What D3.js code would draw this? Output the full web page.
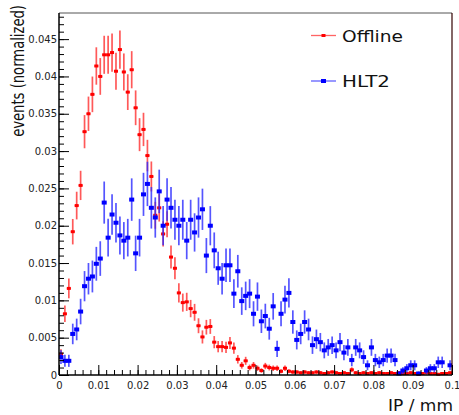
<!DOCTYPE html>
<html>
<head>
<meta charset="utf-8">
<script src="https://cdn.jsdelivr.net/npm/d3@7"></script>
<style>
  body { margin: 0; background: #fff; }
  svg { display: block; }
  text { font-family: "DejaVu Sans", sans-serif; }
</style>
</head>
<body>
<svg id="chart" width="459" height="415"></svg>
<script>
// Histogram binning: 100 bins of impact parameter between 0 and 0.1 mm
const binRange = [0, 0.1];
const nBins = 100;

// Normalized bin contents, Offline reconstruction
const offline = [
  0.0028, 0.0082, 0.0116, 0.0192, 0.0227, 0.0254, 0.0326, 0.0350, 0.0376, 0.0414,
  0.0400, 0.0429, 0.0429, 0.0432, 0.0407, 0.0436, 0.0406, 0.0379, 0.0409, 0.0358,
  0.0322, 0.0329, 0.0294, 0.0266, 0.0214, 0.0224, 0.0189, 0.0202, 0.0158, 0.0143,
  0.0110, 0.0097, 0.0098, 0.0089, 0.0084, 0.0066, 0.0051, 0.0064, 0.0065, 0.0044,
  0.0038, 0.0038, 0.0037, 0.0043, 0.0036, 0.0021, 0.0013, 0.0019, 0.0010, 0.0013,
  0.0009, 0.0006, 0.0012, 0.0010, 0.0009, 0.0009, 0.0005, 0.0009, 0.0005, 0.0004,
  0.0004, 0.0003, 0.0004, 0.0003, 0.0003, 0.0004, 0.0003, 0.0002, 0.0003, 0.0004,
  0.0003, 0.0002, 0.0003, 0.0002, 0.0007, 0.0003, 0.0002, 0.0003, 0.0002, 0.0003,
  0.0002, 0.0003, 0.0002, 0.0002, 0.0003, 0.0002, 0.0003, 0.0002, 0.0002, 0.0003,
  0.0002, 0.0001, 0.0002, 0.0003, 0.0002, 0.0002, 0.0001, 0.0002, 0.0002, 0.0003
];

// Normalized bin contents, HLT2 reconstruction
const hlt2 = [
  0.0024, 0.0019, 0.0019, 0.0055, 0.0061, 0.0085, 0.0119, 0.0129, 0.0132, 0.0149,
  0.0156, 0.0231, 0.0184, 0.0215, 0.0204, 0.0187, 0.0180, 0.0184, 0.0235, 0.0163,
  0.0184, 0.0242, 0.0256, 0.0224, 0.0211, 0.0246, 0.0200, 0.0235, 0.0224, 0.0208,
  0.0200, 0.0208, 0.0180, 0.0208, 0.0191, 0.0211, 0.0222, 0.0160, 0.0200, 0.0167,
  0.0143, 0.0129, 0.0147, 0.0147, 0.0109, 0.0139, 0.0099, 0.0106, 0.0109, 0.0082,
  0.0105, 0.0072, 0.0079, 0.0062, 0.0092, 0.0035, 0.0082, 0.0101, 0.0110, 0.0071,
  0.0047, 0.0055, 0.0071, 0.0061, 0.0040, 0.0048, 0.0044, 0.0033, 0.0037, 0.0040,
  0.0033, 0.0044, 0.0030, 0.0037, 0.0020, 0.0037, 0.0033, 0.0024, 0.0013, 0.0037,
  0.0020, 0.0017, 0.0020, 0.0026, 0.0026, 0.0020, 0.0002, 0.0006, 0.0009, 0.0013,
  0.0013, 0.0002, 0.0000, 0.0006, 0.0009, 0.0009, 0.0017, 0.0017, 0.0000, 0.0013
];

// Effective number of entries per sample (sets the Poisson error bars)
const entriesOffline = 6600;
const entriesHLT2 = 2900;

const seriesNames = ["Offline", "HLT2"];
const xTickLabels = ["0", "0.01", "0.02", "0.03", "0.04", "0.05", "0.06", "0.07", "0.08", "0.09", "0.1"];
const yTickLabels = ["0", "0.005", "0.01", "0.015", "0.02", "0.025", "0.03", "0.035", "0.04", "0.045"];
const xTitle = "IP / mm";
const yTitle = "events (normalized)";
const yMax = 0.0485;

const W = 459, H = 415;
const margin = { left: 59, top: 13, right: 7, bottom: 40 };
const pw = W - margin.left - margin.right;
const ph = H - margin.top - margin.bottom;

const svg = d3.select("#chart");
const g = svg.append("g").attr("transform", `translate(${margin.left},${margin.top})`);

const x = d3.scaleLinear().domain(binRange).range([0, pw]);
const y = d3.scaleLinear().domain([0, yMax]).range([ph, 0]);
const binW = (binRange[1] - binRange[0]) / nBins;

function toBins(values, entries) {
  return values.map((v, i) => ({
    lo: binRange[0] + i * binW,
    hi: binRange[0] + (i + 1) * binW,
    c: binRange[0] + (i + 0.5) * binW,
    v: v,
    e: Math.sqrt(v / entries)
  })).filter(d => d.v > 0);
}

const clipId = "plotclip";
g.append("clipPath").attr("id", clipId)
  .append("rect").attr("x", 0).attr("y", 0).attr("width", pw).attr("height", ph + 2);

function drawSeries(bins, opt) {
  const s = g.append("g").attr("clip-path", `url(#${clipId})`);
  // vertical error bars
  s.selectAll("line.ey").data(bins).join("line")
    .attr("x1", d => x(d.c)).attr("x2", d => x(d.c))
    .attr("y1", d => y(Math.max(0, d.v - d.e))).attr("y2", d => y(d.v + d.e))
    .attr("stroke", opt.err).attr("stroke-width", 1.7).attr("stroke-opacity", 0.8);
  // horizontal (bin width) bars
  s.selectAll("line.ex").data(bins).join("line")
    .attr("x1", d => x(d.lo)).attr("x2", d => x(d.hi))
    .attr("y1", d => y(d.v)).attr("y2", d => y(d.v))
    .attr("stroke", opt.err).attr("stroke-width", 1.2).attr("stroke-opacity", 0.8);
  // markers
  s.selectAll("rect.m").data(bins).join("rect")
    .attr("x", d => x(d.c) - opt.mw / 2).attr("y", d => y(d.v) - opt.mh / 2)
    .attr("width", opt.mw).attr("height", opt.mh)
    .attr("fill", opt.color);
}

const styleOffline = { color: "#ff0000", err: "#ff3030", mw: 4, mh: 3 };
const styleHLT2 = { color: "#0000ff", err: "#2a2aff", mw: 5, mh: 4 };

drawSeries(toBins(offline, entriesOffline), styleOffline);
drawSeries(toBins(hlt2, entriesHLT2), styleHLT2);

// frame (top and right)
g.append("line").attr("x1", 0).attr("x2", pw).attr("y1", 0).attr("y2", 0)
  .attr("stroke", "#555").attr("stroke-width", 1);
g.append("line").attr("x1", pw).attr("x2", pw).attr("y1", 0).attr("y2", ph)
  .attr("stroke", "#300").attr("stroke-width", 1.2);

// Y axis: major + minor ticks pointing into the plot
const yTicks = yTickLabels.map(Number);
const yAxis = g.append("g").call(
  d3.axisLeft(y).tickValues(yTicks).tickSize(-10).tickPadding(2)
    .tickFormat((d, i) => yTickLabels[i])
);
yAxis.select(".domain").remove();
yAxis.selectAll(".tick line").attr("stroke", "#000").attr("stroke-width", 1);
yAxis.selectAll("text").attr("font-size", 10).attr("fill", "#222")
  .attr("font-family", "DejaVu Sans, sans-serif");

const yMinor = g.append("g").call(
  d3.axisLeft(y).tickValues(d3.range(0, yMax, 0.001)).tickSize(-5).tickFormat("")
);
yMinor.select(".domain").remove();
yMinor.selectAll(".tick line").attr("stroke", "#000").attr("stroke-width", 1);

// X axis: major + minor ticks pointing up into the plot
const xTicks = xTickLabels.map(Number);
const xAxis = g.append("g").attr("transform", `translate(0,${ph})`).call(
  d3.axisBottom(x).tickValues(xTicks).tickSize(-10).tickPadding(7)
    .tickFormat((d, i) => xTickLabels[i])
);
xAxis.select(".domain").remove();
xAxis.selectAll(".tick line").attr("stroke", "#000").attr("stroke-width", 1);
xAxis.selectAll("text").attr("font-size", 10).attr("fill", "#222")
  .attr("font-family", "DejaVu Sans, sans-serif");

const xMinor = g.append("g").attr("transform", `translate(0,${ph})`).call(
  d3.axisBottom(x).tickValues(d3.range(0, binRange[1] + 1e-9, 0.002)).tickSize(-5).tickFormat("")
);
xMinor.select(".domain").remove();
xMinor.selectAll(".tick line").attr("stroke", "#000").attr("stroke-width", 1);

// axis lines
g.append("line").attr("x1", 0).attr("x2", 0).attr("y1", 0).attr("y2", ph)
  .attr("stroke", "#000").attr("stroke-width", 1.5);
g.append("line").attr("x1", 0).attr("x2", pw).attr("y1", ph).attr("y2", ph)
  .attr("stroke", "#000").attr("stroke-width", 1.3);

// axis titles
svg.append("text").attr("x", 453).attr("y", 411).attr("text-anchor", "end")
  .attr("font-size", 15).attr("fill", "#111")
  .attr("textLength", 65).attr("lengthAdjust", "spacingAndGlyphs")
  .text(xTitle);

// y title: larger glyphs, squeezed along its length to fit 132 px
const yt = svg.append("text")
  .attr("text-anchor", "end").attr("font-size", 17).attr("fill", "#111")
  .text(yTitle);
const ytLen = yt.node().getComputedTextLength();
yt.attr("transform", `translate(23.5,5) rotate(-90) scale(${132 / ytLen},1)`);

// legend
const legend = svg.append("g");
const legendRows = [
  { name: seriesNames[0], style: styleOffline, y: 35.5, w: 61 },
  { name: seriesNames[1], style: styleHLT2, y: 81, w: 48 }
];
legendRows.forEach(r => {
  legend.append("line").attr("x1", 311).attr("x2", 336).attr("y1", r.y).attr("y2", r.y)
    .attr("stroke", r.style.err).attr("stroke-width", 1.3).attr("stroke-opacity", 0.75);
  legend.append("rect").attr("x", 323.5 - r.style.mw / 2).attr("y", r.y - r.style.mh / 2)
    .attr("width", r.style.mw).attr("height", r.style.mh).attr("fill", r.style.color);
  legend.append("text").attr("x", 342).attr("y", r.y + 6)
    .attr("font-size", 16).attr("fill", "#111")
    .attr("textLength", r.w).attr("lengthAdjust", "spacingAndGlyphs")
    .text(r.name);
});
</script>
</body>
</html>
